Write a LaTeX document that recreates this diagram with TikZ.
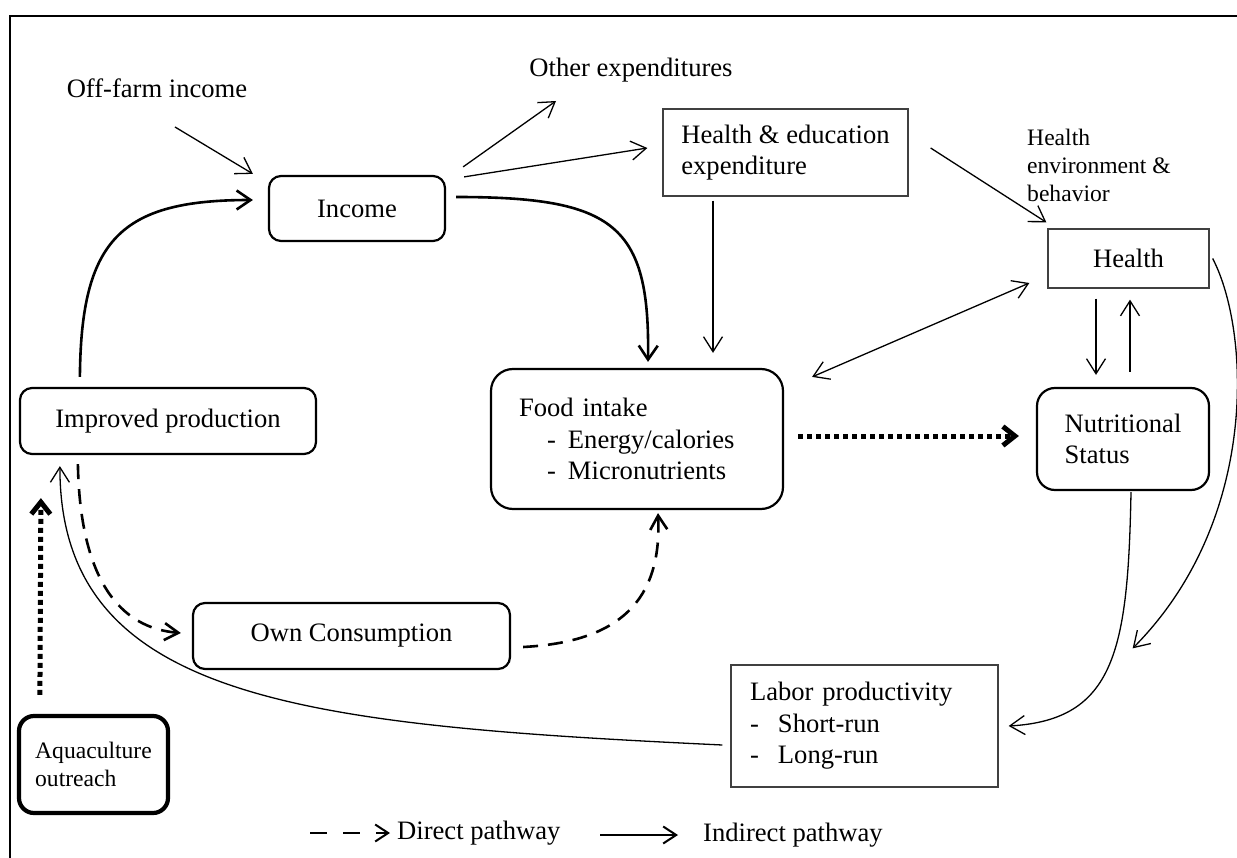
\documentclass[tikz,border=0pt]{standalone}
\usepackage{fontspec}
\setmainfont{Liberation Serif}
\usetikzlibrary{arrows.meta,calc}
\tikzset{
  big/.style={font=\fontsize{26.6pt}{31.5pt}\selectfont, inner sep=0pt},
  small/.style={font=\fontsize{23.6pt}{28pt}\selectfont, inner sep=0pt},
  rbox/.style={draw, line width=2.2pt, rounded corners=12pt, big},
  sbox/.style={draw=black!75, line width=1.3pt, big},
  thinarr/.style={line width=1.3pt, -{Straight Barb[length=15pt,width=19pt]}},
  thickarr/.style={line width=2.6pt, -{Straight Barb[length=14pt,width=19pt]}},
  dasharr/.style={line width=2.6pt, dash pattern=on 15pt off 10pt, -{Straight Barb[length=14pt,width=17pt]}},
  dotarr/.style={line width=5pt, dash pattern=on 5pt off 4pt, -{Straight Barb[length=12pt,width=19pt]}},
}
\begin{document}
\begin{tikzpicture}[x=1pt,y=-1pt]
\useasboundingbox (0,0) rectangle (1237,858);
\fill[white] (0,0) rectangle (1237,858);
\clip (0,0) rectangle (1237,858);
\draw[line width=2pt] (10,16) rectangle (1270,890);

% nodes
\node[big] (off) at (157,88) {Off-farm income};
\node[big] (oth) at (631,70) {Other expenditures};
\node[rbox, minimum width=176pt, minimum height=65pt] (inc) at (357,208.5) {Income};
\node[sbox, minimum width=245pt, minimum height=87pt, align=left] (he) at (785.5,152.5) {Health \& education\\expenditure};
\node[small, align=left, anchor=west] (env) at (1027,165) {Health\\environment \&\\behavior};
\node[sbox, minimum width=161pt, minimum height=59pt] (hl) at (1128.5,258.5) {Health};
\node[rbox, minimum width=296pt, minimum height=66pt] (imp) at (168,421) {Improved production};
\node[rbox, rounded corners=22pt, minimum width=292pt, minimum height=140pt, text width=236pt, align=left] (food) at (637,439)
  {Food intake\\\hspace*{28pt}\makebox[21pt][l]{-}Energy/calories\\\hspace*{28pt}\makebox[21pt][l]{-}Micronutrients};
\node[rbox, rounded corners=18pt, minimum width=172pt, minimum height=102pt, align=left] (nut) at (1123,439) {Nutritional\\Status};
\node[sbox, minimum width=267pt, minimum height=122pt, text width=229pt, align=left] (lab) at (864.5,726)
  {Labor productivity\\\makebox[28pt][l]{-}Short-run\\\makebox[28pt][l]{-}Long-run};
\node[rbox, minimum width=317pt, minimum height=66pt] (own) at (351.5,636) {Own Consumption};
\node[rbox, small, line width=4.2pt, rounded corners=15pt, minimum width=149pt, minimum height=97pt, align=left] (aq) at (93.5,764.5) {Aquaculture\\outreach};

% legend
\node[big, anchor=west] (dp) at (397,833) {Direct pathway};
\node[big, anchor=west] (ip) at (703,835) {Indirect pathway};
\coordinate (ds) at (310,833);
\coordinate (is) at (600,835);
\draw[line width=2pt, dash pattern=on 17pt off 16pt, -{Straight Barb[length=13pt,width=17pt]}] (ds) -- ([xshift=-7pt]dp.west);
\draw[line width=2pt, -{Straight Barb[length=13pt,width=17pt]}] (is) -- ([xshift=-25pt]ip.west);

% connectors
\draw[thinarr] ([shift={(18,39)}]off.center) -- ([shift={(-15,-1)}]inc.north west);
\draw[thickarr] ([shift={(61,-10)}]imp.north west) .. controls (81,240) and (120,200) .. ([shift={(-15,-8.5)}]inc.west);
\draw[thickarr] ([shift={(10,-11.5)}]inc.east) .. controls (615,197) and (650,225) .. ([shift={(11,-6)}]food.north);
\draw[thinarr] ([shift={(17,-8)}]inc.north east) -- ([shift={(-75,31)}]oth.center);
\draw[thinarr] ([shift={(18,2)}]inc.north east) -- ([shift={(-15,-4.5)}]he.west);
\draw[thinarr] ([shift={(-72.5,4)}]he.south) -- ([shift={(76,-15)}]food.north);
\draw[thinarr] ([shift={(22,-4.5)}]he.east) -- ([shift={(-1,-6)}]hl.north west);
\draw[line width=1.3pt, {Straight Barb[length=15pt,width=19pt]}-{Straight Barb[length=15pt,width=19pt]}] ([shift={(28,9)}]food.north east) -- ([shift={(-18,24.5)}]hl.west);
\draw[thinarr] ([shift={(-32.5,10)}]hl.south) -- ([shift={(-27,-12)}]nut.north);
\draw[thinarr] ([shift={(7,-15)}]nut.north) -- ([shift={(1.5,11)}]hl.south);
\draw[dotarr] ([shift={(14,-3)}]food.east) -- ([shift={(-17,-3)}]nut.west);
\draw[thinarr] ([shift={(3,0)}]hl.east) .. controls (1250,330) and (1260,520) .. ([shift={(134,-16)}]lab.north east);
\draw[thinarr] ([shift={(8,1)}]nut.south) .. controls (1128,650) and (1115,720) .. ([shift={(10,0)}]lab.east);
\draw[thinarr] ([shift={(-8,19)}]lab.west) .. controls (300,725) and (60,700) .. ([shift={(41,11)}]imp.south west);
\draw[dasharr] ([shift={(59,9)}]imp.south west) .. controls (80,580) and (120,628) .. ([shift={(-11,-3)}]own.west);
\draw[dasharr] ([shift={(12,11)}]own.east) .. controls (620,642) and (662,600) .. ([shift={(21,3)}]food.south);
\draw[dotarr] ([shift={(23,-19)}]aq.north west) -- ([shift={(22,43)}]imp.south west);
\end{tikzpicture}
\end{document}
